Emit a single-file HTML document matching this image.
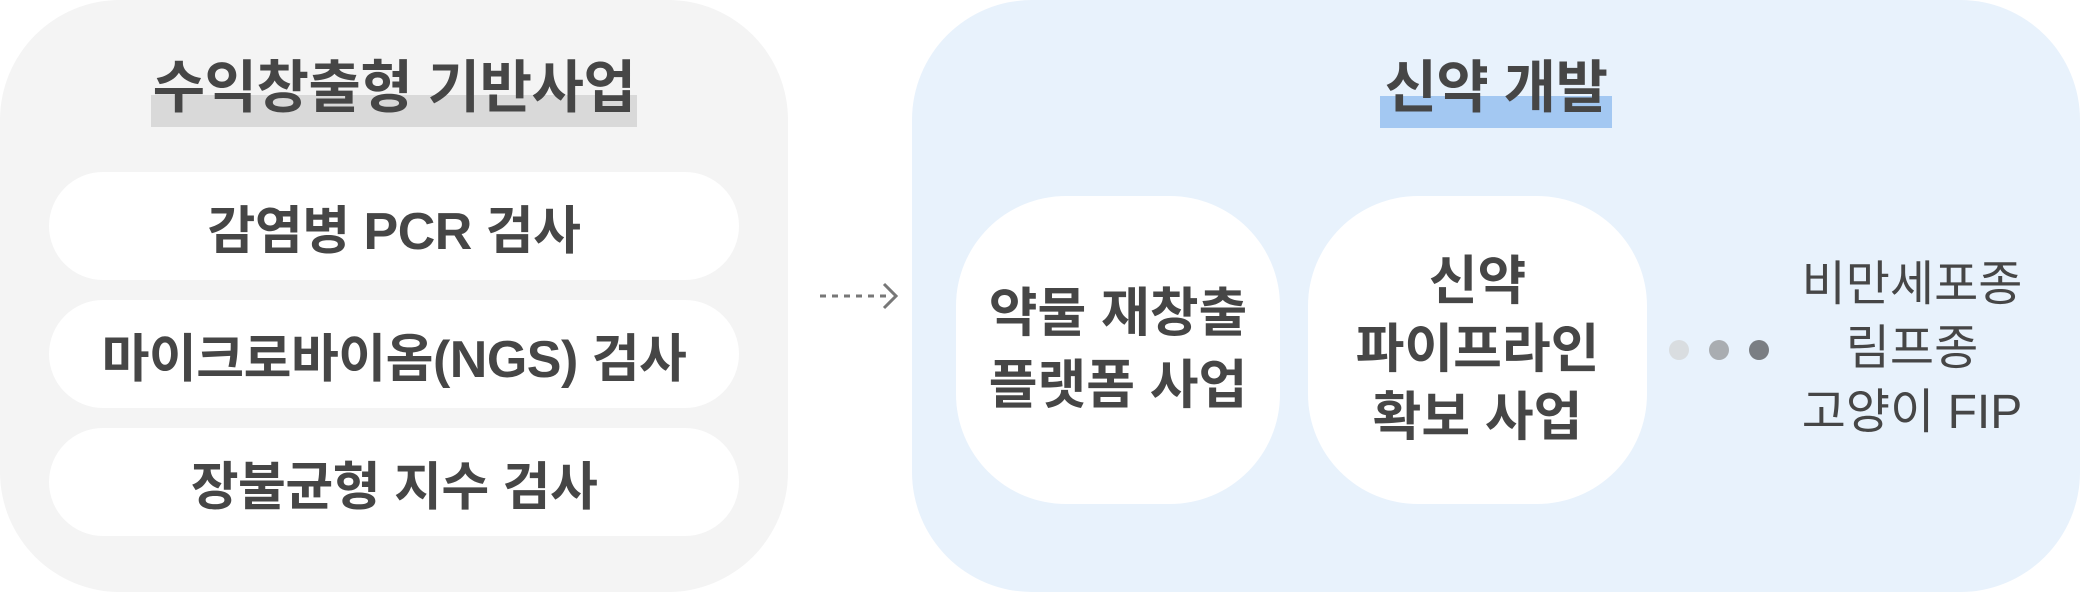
<!DOCTYPE html>
<html><head><meta charset="utf-8"><style>
body{margin:0;width:2080px;height:592px;background:#fff;position:relative;overflow:hidden;font-family:"Liberation Sans","Noto Sans CJK KR",sans-serif;color:#464646}
.a{position:absolute}
.pill{position:absolute;background:#fff;border-radius:54px;left:49px;width:690px;height:108px;display:flex;align-items:center;justify-content:center;font-weight:bold;font-size:52px;letter-spacing:-0.5px}
.big{position:absolute;background:#fff;top:196px;height:308px;border-radius:110px;display:flex;align-items:center;justify-content:center;text-align:center;font-weight:bold;font-size:53px;line-height:68px}
.dot{position:absolute;width:20px;height:20px;border-radius:50%;top:340px}
.t{position:absolute;text-align:center;font-weight:bold;font-size:57px;line-height:70px;letter-spacing:-0.5px}
</style></head><body>
<div class="a" style="left:0;top:0;width:788px;height:592px;background:#f4f4f4;border-radius:120px"></div>
<div class="a" style="left:151px;top:95px;width:486px;height:32px;background:#d9d9d9"></div>
<div class="t" style="left:0;width:788px;top:53px">수익창출형 기반사업</div>
<div class="pill" style="top:172px">감염병 PCR 검사</div>
<div class="pill" style="top:300px">마이크로바이옴(NGS) 검사</div>
<div class="pill" style="top:428px">장불균형 지수 검사</div>
<svg class="a" style="left:810px;top:278px" width="100" height="40"><line x1="10" y1="18" x2="76" y2="18" stroke="#777" stroke-width="3" stroke-dasharray="6 6"/><polyline points="74,6 86,18 74,30" fill="none" stroke="#777" stroke-width="3"/></svg>
<div class="a" style="left:912px;top:0;width:1168px;height:592px;background:#e8f2fc;border-radius:120px"></div>
<div class="a" style="left:1380px;top:96px;width:232px;height:32px;background:#a3c8f2"></div>
<div class="t" style="left:1296px;width:400px;top:53px">신약 개발</div>
<div class="big" style="left:956px;width:324px;line-height:72px">약물 재창출<br>플랫폼 사업</div>
<div class="big" style="left:1308px;width:339px">신약<br>파이프라인<br>확보 사업</div>
<div class="dot" style="left:1669px;background:#d9dde0"></div>
<div class="dot" style="left:1709px;background:#a9adb1"></div>
<div class="dot" style="left:1749px;background:#7a7e83"></div>
<div class="a" style="left:1762px;width:300px;top:253px;text-align:center;font-size:48px;line-height:64px">비만세포종<br>림프종<br>고양이 FIP</div>
</body></html>
